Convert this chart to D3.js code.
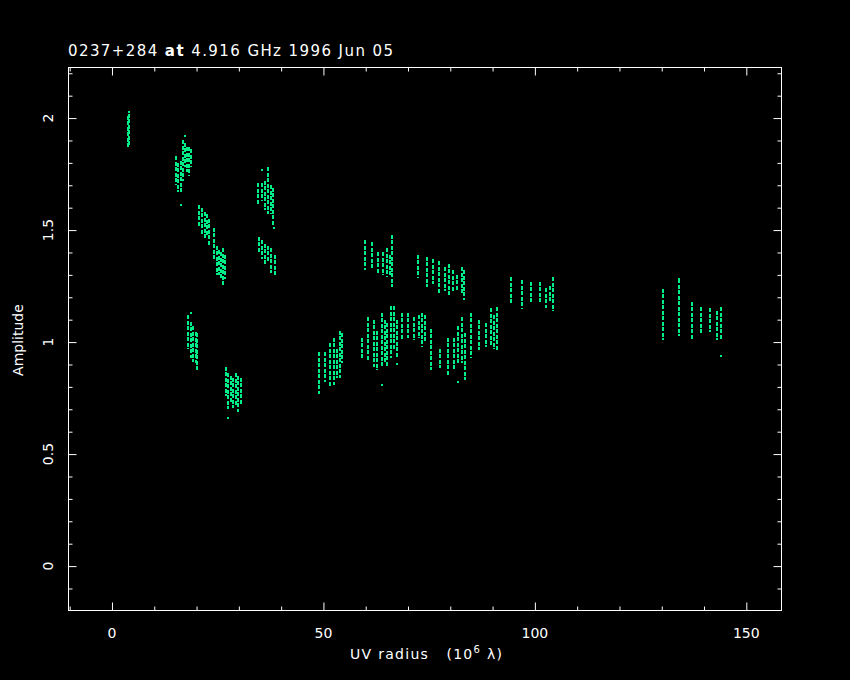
<!DOCTYPE html>
<html>
<head>
<meta charset="utf-8">
<script src="https://cdn.jsdelivr.net/npm/d3@7"></script>
<style>
  html, body { margin: 0; padding: 0; background: #000; }
  svg { display: block; }
  text { fill: #fff; font-family: "DejaVu Sans", sans-serif; white-space: pre; }
</style>
</head>
<body>
<svg id="chart" width="850" height="680"></svg>
<script>
// ---- data (UV radius in 10^6 lambda, amplitude) ----
const title = "0237+284 at 4.916 GHz 1996 Jun 05";
const xLabel = "UV radius";
const yLabel = "Amplitude";
const xMajorTicks = [0, 50, 100, 150];
const yMajorTicks = [0, 0.5, 1, 1.5, 2];
const yTickLabels = ["0", "0.5", "1", "1.5", "2"];

// each streak: [uv, ampLow, ampHigh]
const clusterA = [[3.8, 1.86, 2.01], [4.0, 1.87, 2.02]];
const clusterB = [[15.1, 1.70, 1.83], [15.6, 1.67, 1.80], [16.3, 1.66, 1.81], [16.8, 1.72, 1.90],
                  [17.2, 1.78, 1.89], [17.7, 1.76, 1.87], [18.2, 1.74, 1.87], [18.7, 1.78, 1.86]];
const clusterC = [[20.6, 1.52, 1.61], [21.3, 1.48, 1.60], [22.0, 1.46, 1.58], [22.4, 1.48, 1.57], [22.9, 1.43, 1.55]];
const clusterD = [[24.1, 1.36, 1.51], [24.8, 1.30, 1.43], [25.3, 1.30, 1.41], [25.8, 1.28, 1.40],
                  [26.2, 1.25, 1.42], [26.7, 1.28, 1.39]];
const clusterE = [[34.5, 1.61, 1.71], [35.4, 1.63, 1.71], [36.2, 1.59, 1.72], [36.9, 1.57, 1.78],
                  [37.6, 1.57, 1.70], [38.0, 1.52, 1.69]];
const clusterF = [[34.7, 1.40, 1.47], [35.4, 1.37, 1.455], [36.2, 1.34, 1.44], [36.9, 1.36, 1.43],
                  [37.6, 1.31, 1.42], [38.5, 1.30, 1.39]];
const clusterG = [[18.0, 0.97, 1.12], [18.7, 0.93, 1.09], [19.1, 0.91, 1.07], [19.8, 0.906, 1.045], [20.1, 0.866, 1.04]];
const clusterH = [[26.9, 0.76, 0.89], [27.4, 0.70, 0.86], [28.1, 0.73, 0.85], [28.6, 0.705, 0.84],
                  [29.3, 0.72, 0.86], [29.8, 0.69, 0.85], [30.5, 0.72, 0.84]];
const clusterI = [[48.9, 0.77, 0.955], [50.3, 0.82, 0.955], [51.5, 0.80, 0.995], [52.5, 0.81, 1.02],
                  [53.2, 0.84, 0.97], [53.9, 0.84, 1.05], [54.3, 0.906, 1.04]];
const clusterJ = [[59.8, 1.32, 1.455], [61.4, 1.32, 1.446], [62.9, 1.31, 1.40], [64.0, 1.30, 1.40],
                  [65.0, 1.29, 1.42], [65.7, 1.30, 1.39], [66.2, 1.245, 1.48]];
const clusterK = [[59.1, 0.93, 1.02], [60.5, 0.92, 1.11], [61.9, 0.89, 1.10], [62.6, 0.875, 1.05],
                  [63.8, 0.89, 1.13], [64.5, 0.905, 1.10], [65.0, 0.89, 1.085], [65.9, 0.93, 1.16],
                  [66.6, 0.965, 1.16], [67.3, 0.93, 1.10], [68.5, 1.01, 1.13], [69.9, 1.02, 1.13],
                  [71.4, 1.01, 1.11], [72.5, 1.02, 1.12], [73.3, 0.98, 1.13], [74.0, 1.00, 1.12]];
const clusterL = [[72.3, 1.285, 1.39], [74.4, 1.245, 1.38], [75.9, 1.26, 1.37], [77.3, 1.22, 1.36],
                  [78.7, 1.23, 1.335], [79.6, 1.21, 1.35], [80.6, 1.23, 1.32], [81.5, 1.23, 1.30],
                  [82.7, 1.21, 1.335], [83.2, 1.19, 1.32]];
const clusterM = [[75.4, 0.875, 1.06], [77.5, 0.884, 0.97], [79.4, 0.85, 1.02], [80.8, 0.875, 1.02],
                  [81.8, 0.906, 1.07], [82.7, 0.906, 1.11], [83.4, 0.83, 1.04], [84.8, 0.93, 1.13]];
const clusterP = [[86.7, 0.964, 1.10], [88.4, 0.98, 1.085], [89.6, 0.98, 1.15], [90.3, 0.97, 1.12], [91.0, 0.964, 1.155]];
const clusterN = [[94.3, 1.165, 1.29], [96.9, 1.147, 1.277], [99.2, 1.174, 1.27], [101.1, 1.174, 1.27],
                  [102.6, 1.15, 1.24], [103.5, 1.18, 1.25], [104.2, 1.14, 1.29]];
const clusterO = [[130.2, 1.01, 1.237], [134.0, 1.027, 1.28], [137.1, 1.01, 1.18], [139.4, 1.036, 1.156],
                  [141.5, 1.045, 1.15], [143.0, 1.01, 1.14], [143.9, 1.01, 1.156]];
const clusters = [clusterA, clusterB, clusterC, clusterD, clusterE, clusterF, clusterG, clusterH,
                  clusterI, clusterJ, clusterK, clusterL, clusterM, clusterP, clusterN, clusterO];
// isolated points: [uv, amp]
const strays = [[4.0, 2.025], [17.2, 1.92], [16.3, 1.61], [35.4, 1.77], [38.3, 1.51], [18.7, 1.13],
                [27.4, 0.66], [63.8, 0.81], [67.3, 0.90], [81.8, 0.82], [143.9, 0.94], [134.0, 1.28]];

// ---- layout ----
const svg = d3.select("#chart");
const W = 850, H = 680;
svg.append("rect").attr("width", W).attr("height", H).attr("fill", "#000");
const mLeft = 68, mRight = 781, mTop = 67, mBottom = 610;
const x = d3.scaleLinear().domain([-10.4, 158.2]).range([mLeft, mRight]);
const y = d3.scaleLinear().domain([-0.196, 2.228]).range([mBottom, mTop]);
const green = "#00ee88";

// points / streaks
const g = svg.append("g").attr("shape-rendering", "crispEdges");
clusters.forEach(cl => {
  g.selectAll(null).data(cl).enter().append("line")
    .attr("x1", d => Math.round(x(d[0])))
    .attr("x2", d => Math.round(x(d[0])))
    .attr("y1", d => y(d[2]))
    .attr("y2", d => y(d[1]))
    .attr("stroke", green)
    .attr("stroke-width", 2)
    .attr("stroke-dasharray", "4,1.5");
});
g.selectAll(null).data(strays).enter().append("rect")
  .attr("x", d => Math.round(x(d[0])) - 1).attr("y", d => Math.round(y(d[1])) - 1)
  .attr("width", 2).attr("height", 2).attr("fill", green);

// frame
svg.append("rect").attr("x", mLeft + 0.5).attr("y", mTop + 0.5)
  .attr("width", mRight - mLeft).attr("height", mBottom - mTop)
  .attr("fill", "none").attr("stroke", "#fff").attr("stroke-width", 1);

// ticks via axes
const xMinor = d3.range(-10, 151, 10).filter(v => !xMajorTicks.includes(v));
const yMinor = d3.range(-1, 23).map(v => v / 10).filter(v => !yMajorTicks.some(m => Math.abs(m - v) < 1e-9));

function tickAxis(axisFn, scale, values, size, tr) {
  const a = svg.append("g").attr("transform", tr)
    .call(axisFn(scale).tickValues(values).tickSize(size).tickFormat(""));
  a.select(".domain").remove();
  a.selectAll("line").attr("stroke", "#fff");
  return a;
}
// bottom (ticks point inward = up)
tickAxis(d3.axisTop, x, xMajorTicks, 8, `translate(0,${mBottom + 0.5})`);
tickAxis(d3.axisTop, x, xMinor, 4, `translate(0,${mBottom + 0.5})`);
// top (ticks down)
tickAxis(d3.axisBottom, x, xMajorTicks, 8, `translate(0,${mTop + 0.5})`);
tickAxis(d3.axisBottom, x, xMinor, 4, `translate(0,${mTop + 0.5})`);
// left (ticks right)
tickAxis(d3.axisRight, y, yMajorTicks, 8, `translate(${mLeft + 0.5},0)`);
tickAxis(d3.axisRight, y, yMinor, 4, `translate(${mLeft + 0.5},0)`);
// right (ticks left)
tickAxis(d3.axisLeft, y, yMajorTicks, 8, `translate(${mRight + 0.5},0)`);
tickAxis(d3.axisLeft, y, yMinor, 4, `translate(${mRight + 0.5},0)`);

// x tick labels
svg.append("g").selectAll("text").data(xMajorTicks).enter().append("text")
  .attr("x", d => x(d)).attr("y", 638)
  .attr("text-anchor", "middle").attr("font-size", 14)
  .text(d => d);
// y tick labels (rotated)
svg.append("g").selectAll("text").data(yMajorTicks).enter().append("text")
  .attr("transform", d => `translate(53,${y(d)}) rotate(-90)`)
  .attr("text-anchor", "middle").attr("font-size", 14)
  .text((d, i) => yTickLabels[i]);

// axis labels
const xl = svg.append("text").attr("x", 350).attr("y", 659)
  .attr("font-size", 14).attr("textLength", 152).attr("lengthAdjust", "spacing");
xl.append("tspan").text(xLabel + "   (10");
xl.append("tspan").attr("dy", -6).attr("font-size", 10).text("6");
xl.append("tspan").attr("dy", 6).text(" λ)");

svg.append("text").attr("transform", `translate(23,340) rotate(-90)`)
  .attr("text-anchor", "middle").attr("font-size", 14).text(yLabel);

// title
const t = svg.append("text").attr("x", 68).attr("y", 56).attr("font-size", 15)
  .attr("textLength", 325).attr("lengthAdjust", "spacing");
const parts = title.split(" at ");
t.append("tspan").text(parts[0] + " ");
t.append("tspan").attr("font-weight", "bold").text("at");
t.append("tspan").text(" " + parts[1]);
</script>
</body>
</html>
